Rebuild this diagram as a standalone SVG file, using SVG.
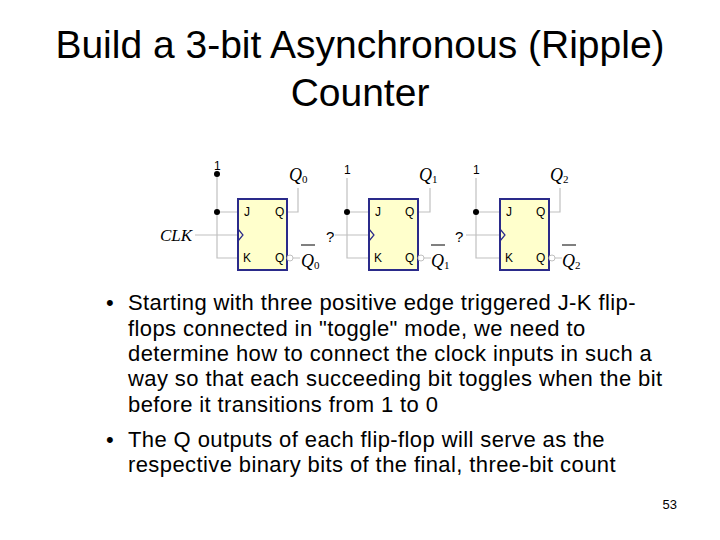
<svg xmlns="http://www.w3.org/2000/svg" width="720" height="540" viewBox="0 0 720 540">
<style>
.t{font-family:"Liberation Sans",Arial,sans-serif;fill:#000}
.it{font-family:"Liberation Serif","Times New Roman",serif;font-style:italic;fill:#000}
.ff{fill:#ffffcc;stroke:#2a2a8a;stroke-width:2}
.w{stroke:#c0c0c0;stroke-width:1.2;fill:none}
.p{font-family:"Liberation Sans",Arial,sans-serif;font-size:12px}
</style>
<rect width="720" height="540" fill="#fff"/>
<text class="t" x="360" y="58" font-size="39" text-anchor="middle">Build a 3-bit Asynchronous (Ripple)</text>
<text class="t" x="360" y="106" font-size="39" text-anchor="middle">Counter</text>
<g id="connectors">
<path class="w" d="M217 174V258H238M217 212H238M195 235H238M287 212H298V188M291 258H300"/>
<path class="w" d="M347 178V258H369M347 212H369M335 235H369M418 212H430V188M422 258H431"/>
<path class="w" d="M476 178V258H500M476 212H500M466 235H500M549 212H560V188M553 258H562"/>
<circle cx="217" cy="174" r="3"/><circle cx="217" cy="212" r="3"/><circle cx="347" cy="212" r="3"/><circle cx="476" cy="212" r="3"/>
</g>
<g id="ff0"><rect class="ff" x="238" y="199" width="49" height="71"/>
<path d="M238 229L243 235L238 241" fill="none" stroke="#2a2a8a" stroke-width="1.2"/>
<circle cx="290" cy="258" r="3" fill="#fff" stroke="#c0c0c0"/>
<text class="p" x="244" y="216">J</text><text class="p" x="275" y="216">Q</text><text class="p" x="243" y="262">K</text><text class="p" x="275" y="262">Q</text>
</g>
<g id="ff1"><rect class="ff" x="369" y="199" width="49" height="71"/>
<path d="M369 229L374 235L369 241" fill="none" stroke="#2a2a8a" stroke-width="1.2"/>
<circle cx="421" cy="258" r="3" fill="#fff" stroke="#c0c0c0"/>
<text class="p" x="375" y="216">J</text><text class="p" x="405" y="216">Q</text><text class="p" x="374" y="262">K</text><text class="p" x="405" y="262">Q</text>
</g>
<g id="ff2"><rect class="ff" x="500" y="199" width="49" height="71"/>
<path d="M500 229L505 235L500 241" fill="none" stroke="#2a2a8a" stroke-width="1.2"/>
<circle cx="552" cy="258" r="3" fill="#fff" stroke="#c0c0c0"/>
<text class="p" x="506" y="216">J</text><text class="p" x="536" y="216">Q</text><text class="p" x="505" y="262">K</text><text class="p" x="536" y="262">Q</text>
</g>
<g id="labels">
<text class="t" x="214" y="170" font-size="12">1</text><text class="t" x="344" y="174" font-size="12">1</text><text class="t" x="473" y="174" font-size="12">1</text>
<text class="it" x="160" y="241" font-size="17">CLK</text>
<text class="t" x="326" y="242" font-size="15">?</text><text class="t" x="455" y="242" font-size="15">?</text>
<text class="it" x="289" y="181" font-size="18">Q<tspan font-size="11" font-style="normal" dy="2">0</tspan></text>
<text class="it" x="419" y="181" font-size="18">Q<tspan font-size="11" font-style="normal" dy="2">1</tspan></text>
<text class="it" x="550" y="181" font-size="18">Q<tspan font-size="11" font-style="normal" dy="2">2</tspan></text>
<text class="it" x="301" y="267" font-size="18">Q<tspan font-size="11" font-style="normal" dy="2">0</tspan></text>
<text class="it" x="431" y="267" font-size="18">Q<tspan font-size="11" font-style="normal" dy="2">1</tspan></text>
<text class="it" x="562" y="267" font-size="18">Q<tspan font-size="11" font-style="normal" dy="2">2</tspan></text>
<path d="M301 245H315M431 245H445M562 245H576" stroke="#000" stroke-width="1"/>
</g>
<g class="t" font-size="22" letter-spacing="0.4">
<text x="106" y="310">•</text>
<text x="128" y="310">Starting with three positive edge triggered J-K flip-</text>
<text x="128" y="336">flops connected in "toggle" mode, we need to</text>
<text x="128" y="361">determine how to connect the clock inputs in such a</text>
<text x="128" y="386">way so that each succeeding bit toggles when the bit</text>
<text x="128" y="412">before it transitions from 1 to 0</text>
<text x="106" y="447">•</text>
<text x="128" y="447">The Q outputs of each flip-flop will serve as the</text>
<text x="128" y="472">respective binary bits of the final, three-bit count</text>
</g>
<text class="t" x="677" y="509" font-size="13" text-anchor="end">53</text>
</svg>
